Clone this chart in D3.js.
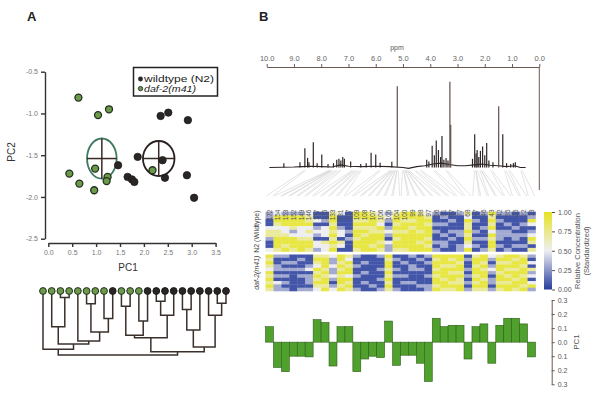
<!DOCTYPE html>
<html>
<head>
<meta charset="utf-8">
<script src="https://cdn.jsdelivr.net/npm/d3@7"></script>
<style>
  body { margin: 0; background: #fff; }
  svg { font-family: "Liberation Sans", Arial, sans-serif; }
</style>
</head>
<body>
<svg id="chart" width="600" height="398"></svg>
<script>
/* global d3 */

// ---- Panel A: PCA scores ----
const wildPoints = [[1.46,-1.62],[1.87,-1.52],[1.66,-1.76],[1.75,-1.79],[1.80,-1.82],[2.35,-1.03],
  [2.51,-0.99],[2.39,-1.56],[2.44,-1.77],[2.92,-1.08],[2.90,-1.74],[3.05,-2.01]];
const dafPoints = [[0.63,-0.81],[1.04,-1.02],[1.27,-0.95],[0.44,-1.72],[0.65,-1.84],[0.96,-1.92],
  [0.98,-1.66],[1.24,-1.76],[1.22,-1.81],[2.18,-1.68]];
// group centroid and spread: [cx, cy, sdx, sdy]
const dafCentroid = [1.12, -1.54, 0.31, 0.24];
const wildCentroid = [2.31, -1.54, 0.33, 0.21];
const pc1Ticks = [0, 0.5, 1, 1.5, 2, 2.5, 3, 3.5];
const pc2Ticks = [-0.5, -1, -1.5, -2, -2.5];

// dendrogram: leaf groups (g = daf-2, w = wildtype) and merges [a, b, height]
const leafGroups = 'ggggggggwgggwwwwwwwwww'.split('');
const merges = [
  [2,3,1.0],[5,6,2.0],[13,14,1.6],[20,21,1.9],[9,10,2.4],[16,17,2.9],
  [19,25,3.8],[15,24,3.8],[7,8,4.3],[11,12,4.7],[1,22,5.6],[18,27,6.1],
  [23,30,6.4],[26,31,6.9],[35,29,7.3],[4,34,7.8],[32,37,8.3],[33,28,8.75],
  [0,38,9.1],[36,39,9.5],[40,41,10]
];

// ---- Panel B: NMR spectrum ----
const ppmTicks = [10,9,8,7,6,5,4,3,2,1,0];
const baselinePpm = [9.9,9.0,8.7,8.4,8.0,7.6,7.3,7.0,6.5,6.0,5.5,5.0,4.8,4.5,4.2,3.9,3.6,3.3,3.0,2.7,2.4,2.1,1.8,1.5,1.2,0.9,0.7,0.5];
const baselineInt = [0,0.5,1,1.5,1,0.5,3,1.5,1,1.5,1,0,-1,1,2,4,5,3.5,2,2,3,4,2.5,2,1,2,0,0];
const peakPpm = [9.37,8.78,8.60,8.50,8.45,8.29,8.15,7.98,7.75,7.55,7.43,7.35,7.28,7.21,7.15,6.92,6.55,
  6.35,6.17,6.00,5.84,5.41,5.21,4.13,4.05,3.93,3.85,3.78,3.70,3.62,3.57,3.50,3.42,3.35,3.28,3.25,
  2.45,2.37,2.32,2.28,2.22,2.16,2.08,2.00,1.93,1.85,1.70,1.49,1.34,1.20,1.05,0.95,0.88];
const peakInt = [5,6,22,11,6,29,5,15,4,5,9,10,8,12,10,7,4,
  5,17,15,5.5,6.6,93,9,7,25,14,31,20,12,36,9,11,8,98,49,
  10,38,16,20,12,19,24,14,28,8,6,70,38,5,4,5,6];

// ---- Panel B: heatmap ----
const binLabels = [172,154,153,152,149,146,137,135,133,131,117,109,108,107,106,105,104,
  100,99,98,97,96,91,87,77,68,47,46,43,42,35,25,22,13];
// levels 0..4 from dark blue (low) to yellow (high)
const levelValues = [0.07, 0.31, 0.5, 0.71, 0.92];
const wildRows = [
  '1 21112 00 3 20 4432 1 34432 1001 3 01 4 1101 0',
  '1 44443 00 4 00 4443 2 44443 0100 2 00 3 0000 1',
  '0 44443 21 4 00 3343 1 43344 0010 4 10 4 1000 4',
  '0 34444 00 3 00 4442 0 34443 1100 3 00 3 0101 2',
  '2 22322 12 4 10 3334 1 44344 0000 3 01 4 0010 0',
  '3 32123 22 3 21 4433 2 33434 1011 4 10 2 1100 1',
  '3 33222 12 4 20 4344 1 44444 0101 3 00 4 1111 2',
  '1 44433 00 3 01 3444 0 34443 0010 4 11 3 1010 4',
  '0 44444 23 4 30 4443 2 44434 1100 3 00 4 0000 3',
  '0 43444 22 3 20 4434 1 44443 0101 2 10 4 1011 0',
  '2 34343 12 4 00 3443 1 33444 1001 4 01 3 0100 3'
];
const dafRows = [
  '4 11000 33 2 43 1001 4 00101 4444 0 34 2 3443 1',
  '3 00010 44 1 42 0000 3 10010 3434 1 44 1 4434 0',
  '4 01100 34 1 34 0100 4 01001 4443 0 43 0 3344 2',
  '3 10001 24 2 43 1000 4 00100 4334 0 34 1 4443 0',
  '2 11112 43 1 34 0001 3 10110 3444 1 43 2 4334 3',
  '4 00000 34 1 44 0100 4 00000 4433 0 44 1 3444 1',
  '3 11011 43 2 32 1000 3 11001 3444 1 34 0 4343 2',
  '4 00001 34 1 44 0001 4 00000 4343 0 43 1 4434 0',
  '3 21001 44 0 43 0100 3 01100 4433 1 34 1 3344 2',
  '4 10000 33 1 34 0010 4 00011 3444 0 44 0 4443 4',
  '3 11011 24 2 43 1001 3 10001 4334 1 33 1 3434 1'
];
const colorbarTicks = [0, 0.25, 0.5, 0.75, 1];

// ---- Panel B: PC1 loadings ----
const loadings = [0.11,-0.18,-0.21,-0.10,-0.10,-0.105,0.16,0.14,-0.17,0.11,0.11,-0.21,-0.12,-0.10,
  -0.11,0.15,-0.165,-0.093,-0.093,-0.15,-0.28,0.17,0.11,0.12,0.12,-0.12,0.11,0.13,-0.15,0.12,
  0.17,0.17,0.13,-0.105];
const loadingTicks = [-0.3,-0.2,-0.1,0,0.1,0.2,0.3];

const svg = d3.select('#chart');
const dark = '#2b2626';
const greenFill = '#6b9a48';

// panel letters
svg.append('text').attr('x', 27).attr('y', 21).text('A')
  .style('font-size', '13px').style('font-weight', 'bold').attr('fill', '#222');
svg.append('text').attr('x', 259).attr('y', 21).text('B')
  .style('font-size', '13px').style('font-weight', 'bold').attr('fill', '#222');

// ===== scatter =====
const x = d3.scaleLinear().domain([0, 3.5]).range([48.3, 215.6]);
const y = d3.scaleLinear().domain([-0.5, -2.5]).range([71.7, 238.7]);

const yAx = svg.append('g').attr('transform', 'translate(45,0)')
  .call(d3.axisLeft(y).tickValues(pc2Ticks).tickSize(4).tickSizeOuter(0).tickFormat(d => d.toFixed(1)));
const xAx = svg.append('g').attr('transform', 'translate(0,243)')
  .call(d3.axisBottom(x).tickValues(pc1Ticks).tickSize(4).tickSizeOuter(0).tickFormat(d => d.toFixed(1)));
[yAx, xAx].forEach(g => {
  g.selectAll('path,line').attr('stroke', '#333').attr('stroke-width', 1.4);
  g.selectAll('text').attr('fill', '#777').style('font-size', '7px');
});

svg.append('text').attr('transform', 'translate(15,152) rotate(-90)')
  .attr('text-anchor', 'middle').text('PC2').style('font-size', '10px').attr('fill', '#333');
svg.append('text').attr('x', 128).attr('y', 271)
  .attr('text-anchor', 'middle').text('PC1').style('font-size', '10px').attr('fill', '#333');

// centroid ellipses with crosshairs
function drawCentroid(c, color) {
  const [cx, cy, sx, sy] = c;
  const px = x(cx), py = y(cy);
  const rx = x(cx + sx) - px, ry = y(cy - sy) - py;
  svg.append('ellipse').attr('cx', px).attr('cy', py).attr('rx', rx).attr('ry', ry)
    .attr('fill', 'none').attr('stroke', color).attr('stroke-width', 1.8);
  svg.append('line').attr('x1', px - rx).attr('x2', px + rx).attr('y1', py).attr('y2', py)
    .attr('stroke', '#3a2a25').attr('stroke-width', 1.5);
  svg.append('line').attr('x1', px).attr('x2', px).attr('y1', py - ry).attr('y2', py + ry)
    .attr('stroke', '#3a2a25').attr('stroke-width', 1.5);
}
drawCentroid(dafCentroid, '#3d7a5e');
drawCentroid(wildCentroid, '#2a2020');

svg.append('g').selectAll('circle').data(wildPoints).enter().append('circle')
  .attr('cx', d => x(d[0])).attr('cy', d => y(d[1])).attr('r', 3.7)
  .attr('fill', dark).attr('stroke', '#1d1a1a').attr('stroke-width', 0.8);
svg.append('g').selectAll('circle').data(dafPoints).enter().append('circle')
  .attr('cx', d => x(d[0])).attr('cy', d => y(d[1])).attr('r', 3.5)
  .attr('fill', greenFill).attr('stroke', '#243024').attr('stroke-width', 1.3);

// legend
const leg = svg.append('g');
leg.append('rect').attr('x', 133.5).attr('y', 67.5).attr('width', 84).attr('height', 28.5)
  .attr('fill', '#fff').attr('stroke', '#222').attr('stroke-width', 1.5);
leg.append('circle').attr('cx', 140.5).attr('cy', 79).attr('r', 2.4).attr('fill', dark);
leg.append('circle').attr('cx', 140.5).attr('cy', 88.6).attr('r', 2.2).attr('fill', greenFill)
  .attr('stroke', '#243024').attr('stroke-width', 0.9);
leg.append('text').attr('x', 144).attr('y', 82.2).text('wildtype (N2)')
  .style('font-size', '9px').attr('textLength', 70).attr('lengthAdjust', 'spacingAndGlyphs')
  .attr('fill', '#222');
leg.append('text').attr('x', 144).attr('y', 92).text('daf-2(m41)')
  .style('font-size', '9px').attr('textLength', 52).attr('lengthAdjust', 'spacingAndGlyphs')
  .style('font-style', 'italic').attr('fill', '#222');

// ===== dendrogram =====
const leafX = d3.scalePoint().domain(d3.range(leafGroups.length)).range([43, 226]);
const dendY = d3.scaleLinear().domain([0, 10]).range([291, 355]);
const nodeX = leafGroups.map((g, i) => leafX(i));
const nodeH = leafGroups.map(() => 0);
const dend = svg.append('g');
merges.forEach(([a, b, h]) => {
  const id = nodeX.length;
  nodeX[id] = (nodeX[a] + nodeX[b]) / 2;
  nodeH[id] = h;
  dend.append('path')
    .attr('d', `M${nodeX[a]},${dendY(nodeH[a])}V${dendY(h)}H${nodeX[b]}V${dendY(nodeH[b])}`)
    .attr('fill', 'none').attr('stroke', '#3a302b').attr('stroke-width', 1.5);
});
dend.selectAll('circle').data(leafGroups).enter().append('circle')
  .attr('cx', (d, i) => leafX(i)).attr('cy', dendY(0)).attr('r', 3.4)
  .attr('fill', d => d === 'g' ? greenFill : dark)
  .attr('stroke', d => d === 'g' ? '#243024' : '#1d1a1a').attr('stroke-width', 1);

// ===== spectrum =====
const ppmX = d3.scaleLinear().domain([10, 0]).range([266.7, 539.3]);
const intY = d3.scaleLinear().domain([0, 100]).range([167.5, 80]);

const ppmAx = svg.append('g').attr('transform', 'translate(0,67)')
  .call(d3.axisTop(ppmX).tickValues(ppmTicks).tickSize(3).tickSizeOuter(0).tickFormat(d => d.toFixed(1)));
ppmAx.selectAll('path,line').attr('stroke', '#6a5a52').attr('stroke-width', 1);
ppmAx.selectAll('text').attr('fill', '#666').style('font-size', '7.5px');
svg.append('line').attr('x1', ppmX(0)).attr('x2', ppmX(0)).attr('y1', 67).attr('y2', 190)
  .attr('stroke', '#6a5a52').attr('stroke-width', 1);
svg.append('text').attr('x', 397).attr('y', 50).attr('text-anchor', 'middle').text('ppm')
  .style('font-size', '7px').attr('fill', '#555');

// connectors from spectral bins (0.05 ppm wide) to heatmap columns
const colX = d3.scaleBand().domain(d3.range(binLabels.length)).range([265.5, 535.5]);
const conn = svg.append('g');
binLabels.forEach((b, i) => {
  [-0.5, 0.5].forEach(s => {
    conn.append('line')
      .attr('x1', ppmX((b - s) * 0.05)).attr('y1', 170.5)
      .attr('x2', colX(i) + colX.bandwidth() * (0.5 + s * 0.8)).attr('y2', 196)
      .attr('stroke', '#d2d2d2').attr('stroke-width', 0.6);
  });
});

const baseLine = d3.line().x(d => ppmX(d[0])).y(d => intY(d[1]));
svg.append('path').datum(baselinePpm.map((p, i) => [p, baselineInt[i]]))
  .attr('d', baseLine).attr('fill', 'none').attr('stroke', '#2e2626').attr('stroke-width', 1.1);
svg.append('g').selectAll('line').data(peakPpm).enter().append('line')
  .attr('x1', d => ppmX(d)).attr('x2', d => ppmX(d))
  .attr('y1', intY(0)).attr('y2', (d, i) => intY(peakInt[i]))
  .attr('stroke', (d, i) => peakInt[i] > 40 ? '#5e504c' : '#2e2626').attr('stroke-width', 1.2);

// ===== heatmap =====
const heatColor = d3.scaleLinear().domain([0, 0.5, 1]).range(['#263c9c', '#eeeef2', '#e6e422']);
const parseRows = rows => rows.map(r => r.replace(/ /g, '').split('').map(c => levelValues[+c]));
const blocks = [
  { rows: parseRows(wildRows), top: 211.7, bottom: 251.5, label: 'N2 (Wildtype)', italic: false },
  { rows: parseRows(dafRows), top: 254.5, bottom: 291, label: 'daf-2(m41)', italic: true }
];
blocks.forEach(b => {
  const rowY = d3.scaleBand().domain(d3.range(b.rows.length)).range([b.top, b.bottom]);
  const g = svg.append('g');
  b.rows.forEach((row, ri) => {
    g.selectAll(null).data(row).enter().append('rect')
      .attr('x', (d, ci) => colX(ci)).attr('y', rowY(ri))
      .attr('width', colX.bandwidth() + 0.3).attr('height', rowY.bandwidth() + 0.3)
      .attr('fill', d => heatColor(d));
  });
  svg.append('text')
    .attr('transform', `translate(259,${(b.top + b.bottom) / 2}) rotate(-90)`)
    .attr('text-anchor', 'middle').text(b.label)
    .style('font-size', '7px').style('font-style', b.italic ? 'italic' : 'normal').attr('fill', '#444');
});
svg.append('g').selectAll('text').data(binLabels).enter().append('text')
  .attr('transform', (d, i) => `translate(${colX(i) + colX.bandwidth() / 2 + 2.3},209.5) rotate(-90)`)
  .attr('text-anchor', 'end').text(d => d)
  .style('font-size', '6.5px').attr('fill', '#555');

// colour bar
const defs = svg.append('defs');
const grad = defs.append('linearGradient').attr('id', 'cbar')
  .attr('x1', 0).attr('x2', 0).attr('y1', 1).attr('y2', 0);
colorbarTicks.forEach(t => grad.append('stop').attr('offset', t).attr('stop-color', heatColor(t)));
const cbY = d3.scaleLinear().domain([0, 1]).range([289.5, 212]);
svg.append('rect').attr('x', 544).attr('y', cbY(1)).attr('width', 8).attr('height', cbY(0) - cbY(1))
  .attr('fill', 'url(#cbar)');
const cbAx = svg.append('g').attr('transform', 'translate(552,0)')
  .call(d3.axisRight(cbY).tickValues(colorbarTicks).tickSize(3).tickSizeOuter(0).tickFormat(d3.format('.2f')));
cbAx.select('.domain').remove();
cbAx.selectAll('line').attr('stroke', '#555');
cbAx.selectAll('text').attr('fill', '#555').style('font-size', '7px');
svg.append('text').attr('transform', 'translate(580,251) rotate(-90)').attr('text-anchor', 'middle')
  .text('Relative Concentration').style('font-size', '7.5px').attr('fill', '#555');
svg.append('text').attr('transform', 'translate(589,251) rotate(-90)').attr('text-anchor', 'middle')
  .text('(Standardized)').style('font-size', '7.5px').attr('fill', '#555');

// ===== PC1 loadings bars =====
const pcY = d3.scaleLinear().domain([-0.3, 0.3]).range([384.3, 300]);
svg.append('g').selectAll('rect').data(loadings).enter().append('rect')
  .attr('x', (d, i) => colX(i)).attr('width', colX.bandwidth())
  .attr('y', d => pcY(Math.max(0, d))).attr('height', d => Math.abs(pcY(d) - pcY(0)))
  .attr('fill', '#4fa02c').attr('stroke', '#2f5e1c').attr('stroke-width', 0.6);
const pcAx = svg.append('g').attr('transform', 'translate(551.7,0)')
  .call(d3.axisRight(pcY).tickValues(loadingTicks).tickSize(3).tickSizeOuter(0)
    .tickFormat(d => Math.abs(d).toFixed(1)));
pcAx.selectAll('path,line').attr('stroke', '#6a5a52');
pcAx.selectAll('text').attr('fill', '#555').style('font-size', '7px');
svg.append('text').attr('transform', 'translate(579,342) rotate(-90)').attr('text-anchor', 'middle')
  .text('PC1').style('font-size', '8px').attr('fill', '#555');
</script>
</body>
</html>
